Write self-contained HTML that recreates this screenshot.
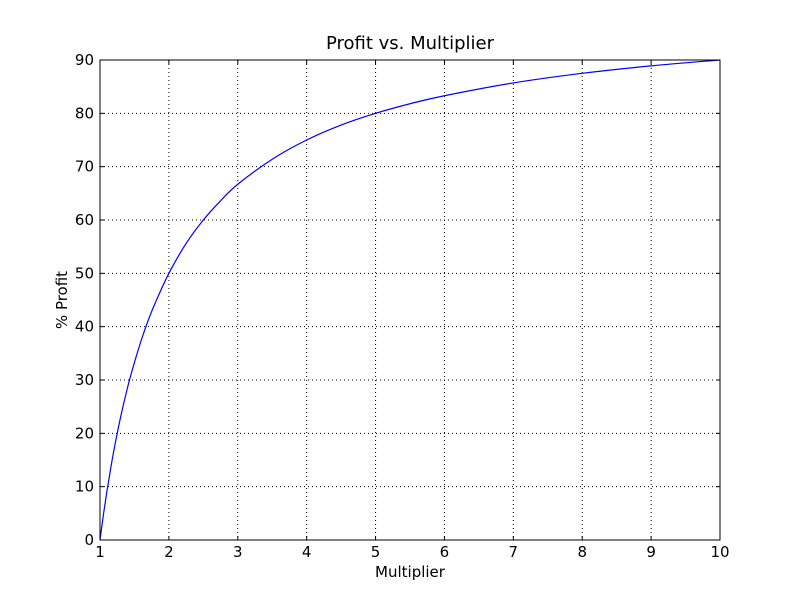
<!DOCTYPE html>
<html><head><meta charset="utf-8"><style>
body{margin:0;background:#fff;}
svg text{font-family:"DejaVu Sans","Liberation Sans",sans-serif;fill:#000;}
</style></head><body>
<svg id="chart" width="800" height="600" xmlns="http://www.w3.org/2000/svg">
<rect width="800" height="600" fill="#fff"/>
<text x="410" y="49" font-size="18" text-anchor="middle">Profit vs. Multiplier</text>
<text x="410" y="577" font-size="15" text-anchor="middle">Multiplier</text>
<text transform="translate(67,300) rotate(-90)" font-size="15" text-anchor="middle">% Profit</text>
<g id="grid"></g>
<g id="ticks"></g>
<path id="curve" fill="none" stroke="#0000ff" stroke-width="1.2"/>
<rect x="100" y="60" width="620" height="480" fill="none" stroke="#000" stroke-width="1"/>
</svg>
<script>
const multipliers=[1,1.05,1.1,1.15,1.2,1.3,1.4,1.5,1.6,1.7,1.8,2,2.25,2.5,2.75,3,3.5,4,4.5,5,5.5,6,7,8,9,10];
const profits=[0,4.8,9.1,13,16.7,23.1,28.6,33.3,37.5,41.2,44.4,50,55.6,60,63.6,66.7,71.4,75,77.8,80,81.8,83.3,85.7,87.5,88.9,90];
const xTicks=[1,2,3,4,5,6,7,8,9,10];
const yTicks=[0,10,20,30,40,50,60,70,80,90];
const X0=100,X1=720,Y0=540,Y1=60;
function sx(v){return X0+(v-1)/(10-1)*(X1-X0);}
function sy(v){return Y0-(v-0)/(90-0)*(Y0-Y1);}
const NS="http://www.w3.org/2000/svg";
const grid=document.getElementById('grid'),ticks=document.getElementById('ticks');
function line(p,x1,y1,x2,y2,attrs){const l=document.createElementNS(NS,'line');l.setAttribute('x1',x1);l.setAttribute('y1',y1);l.setAttribute('x2',x2);l.setAttribute('y2',y2);l.setAttribute('stroke','#000');l.setAttribute('stroke-width','1');for(const k in attrs)l.setAttribute(k,attrs[k]);p.appendChild(l);return l;}
function text(x,y,s,anchor){const t=document.createElementNS(NS,'text');t.setAttribute('x',x);t.setAttribute('y',y);t.setAttribute('font-size','15');t.setAttribute('text-anchor',anchor);t.textContent=s;ticks.appendChild(t);return t;}
xTicks.forEach(v=>{const x=sx(v);
 const g=line(grid,x,Y1,x,Y0,{'stroke-dasharray':'1,3'});
 
 
 line(ticks,x,Y0,x,Y0-4,{});line(ticks,x,Y1,x,Y1+4,{});
 const t=text(x,557,String(v),'middle');
 
 
});
yTicks.forEach(v=>{const y=sy(v);
 const g=line(grid,X0,y,X1,y,{'stroke-dasharray':'1,3'});
 
 
 line(ticks,X0,y,X0+4,y,{});line(ticks,X1,y,X1-4,y,{});
 const t=text(94,y+5,String(v),'end');
 
 
});
const pts=multipliers.map((m,i)=>[sx(m),sy(profits[i])]);
let d='M'+pts[0][0]+','+pts[0][1];
for(let i=0;i<pts.length-1;i++){
 const p0=pts[Math.max(0,i-1)],p1=pts[i],p2=pts[i+1],p3=pts[Math.min(pts.length-1,i+2)];
 const c1=[p1[0]+(p2[0]-p0[0])/6,p1[1]+(p2[1]-p0[1])/6];
 const c2=[p2[0]-(p3[0]-p1[0])/6,p2[1]-(p3[1]-p1[1])/6];
 d+=' C'+c1[0]+','+c1[1]+' '+c2[0]+','+c2[1]+' '+p2[0]+','+p2[1];
}
document.getElementById('curve').setAttribute('d',d);
</script>
</body></html>
